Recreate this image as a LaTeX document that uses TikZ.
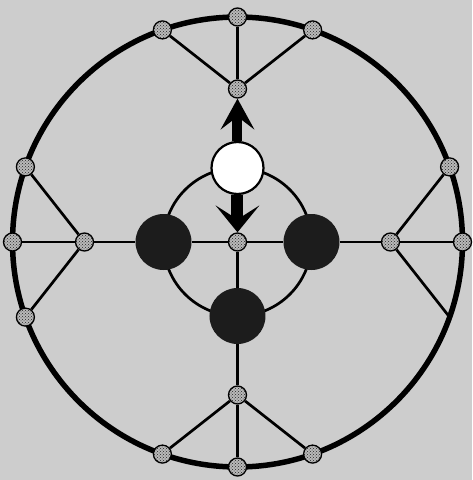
\documentclass[tikz,border=0pt]{standalone}
\usepackage{xcolor}
\usepackage{tikz}
\usetikzlibrary{patterns}
\definecolor{papier}{HTML}{CDCDCD}
\definecolor{kugelfarbe}{HTML}{1C1C1C}

\tikzset{
  knoten/.style={circle, draw=black, line width=1.3pt, minimum size=18pt, inner sep=0pt,
    preaction={fill=gray!55}, pattern=crosshatch dots, pattern color=black!85},
  kugel/.style={circle, fill=kugelfarbe, minimum size=56pt, inner sep=0pt},
  leer/.style={circle, draw=black, line width=2.2pt, fill=white, minimum size=52pt, inner sep=0pt},
  kante/.style={line width=2.7pt},
}

\begin{document}
\begin{tikzpicture}[x=1pt, y=1pt]
  % Hintergrund
  \fill[papier] (-237.5,-238) rectangle (234.5,242);

  % Kreise
  \draw[line width=5.5pt] (0,0) circle (225);
  \draw[kante] (0,0) circle (74);

  % Knoten auf dem grossen Kreis
  \node[knoten] (ao) at (90:225) {};
  \node[knoten] (aol) at (109.5:225) {};
  \node[knoten] (aor) at (70.5:225) {};
  \node[knoten] (al) at (180:225) {};
  \node[knoten] (alo) at (160.5:225) {};
  \node[knoten] (alu) at (199.5:225) {};
  \node[knoten] (ar) at (0:225) {};
  \node[knoten] (aro) at (19.5:225) {};
  \coordinate (aru) at (-19.5:225);
  \node[knoten] (au) at (270:225) {};
  \node[knoten] (aul) at (250.5:225) {};
  \node[knoten] (aur) at (289.5:225) {};

  % innere Knoten
  \node[knoten] (io) at (90:153) {};
  \node[knoten] (il) at (180:153) {};
  \node[knoten] (ir) at (0:153) {};
  \node[knoten] (iu) at (270:153) {};
  \node[knoten] (m) at (0,0) {};

  % Kugeln
  \node[kugel] (kl) at (180:74) {};
  \node[kugel] (kr) at (0:74) {};
  \node[kugel] (ku) at (270:74) {};
  \node[leer] (lo) at (90:74) {};

  % Verbindungen
  \draw[kante] (al) -- (il) -- (kl) -- (m) -- (kr) -- (ir) -- (ar);
  \draw[kante] (ao) -- (io);
  \draw[kante] (m) -- (ku) -- (iu) -- (au);
  \draw[kante] (aol) -- (io) -- (aor);
  \draw[kante] (alo) -- (il) -- (alu);
  \draw[kante] (aro) -- (ir) -- (aru);
  \draw[kante] (aul) -- (iu) -- (aur);

  % Pfeile (Schaft dick, Spitze als Fläche)
  \draw[line width=10pt, shorten >=16pt] (lo) -- (io);
  \fill (io.south) -- ++(-17,-31) -- ++(17,13) -- ++(17,-13) -- cycle;
  \draw[line width=12pt, shorten >=11pt] (lo) -- (m);
  \fill (m.north) -- ++(-22,27) -- ++(22,-14) -- ++(22,14) -- cycle;
\end{tikzpicture}
\end{document}
